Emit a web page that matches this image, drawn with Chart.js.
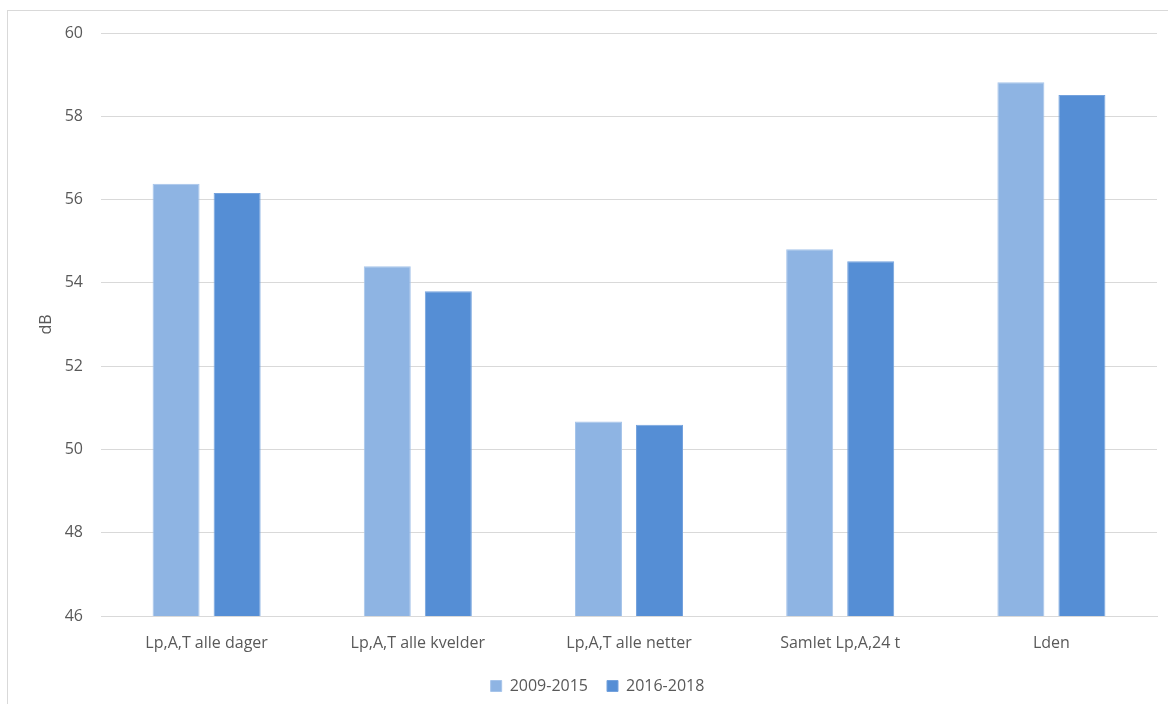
<!DOCTYPE html>
<html>
<head>
<meta charset="utf-8">
<script src="https://cdn.jsdelivr.net/npm/chart.js@4"></script>
<style>
  html, body { margin: 0; padding: 0; background: #fff; overflow: hidden; }
  #wrap { position: relative; width: 1168px; height: 704px; }
  #frame { position: absolute; left: 7px; top: 10px; width: 1170px; height: 710px; border: 1px solid #d9d9d9; box-sizing: border-box; }
  canvas { position: absolute; left: 0; top: 0; }
</style>
</head>
<body>
<div id="wrap">
  <div id="frame"></div>
  <canvas id="noiseChart" width="1168" height="704"></canvas>
</div>
<script>
// Data
const categories = ['Lp,A,T alle dager', 'Lp,A,T alle kvelder', 'Lp,A,T alle netter', 'Samlet Lp,A,24 t', 'Lden'];
const series2009 = [56.38, 54.40, 50.67, 54.81, 58.82];
const series2016 = [56.16, 53.80, 50.59, 54.52, 58.51];
const seriesNames = ['2009-2015', '2016-2018'];

const textColor = '#595959';
const gridColor = '#d9d9d9';
const font = { family: "'Open Sans', sans-serif", size: 16 };

// nudge the legend a bit to the right, like the original
const legendShift = {
    id: 'legendShift',
    afterLayout: (chart) => {
        chart.legend.left += 19;
        chart.legend.right += 19;
    }
};

let ctx = document.getElementById('noiseChart').getContext('2d');
let noiseChart = new Chart(ctx, {
    type: 'bar',
    data: {
        labels: categories,
        datasets: [{
            label: seriesNames[0],
            data: series2009,
            backgroundColor: '#8EB4E3',
            borderColor: '#A6C4EA',
            borderWidth: 1,
            categoryPercentage: 0.578,
            barPercentage: 0.77
        }, {
            label: seriesNames[1],
            data: series2016,
            backgroundColor: '#558ED5',
            borderColor: '#74A2DD',
            borderWidth: 1,
            categoryPercentage: 0.578,
            barPercentage: 0.77
        }]
    },
    options: {
        responsive: false,
        animation: false,
        layout: { padding: { left: 0, right: 11, top: 33, bottom: 0 } },
        plugins: {
            tooltip: { enabled: false },
            legend: {
                position: 'bottom',
                labels: {
                    color: textColor,
                    font: font,
                    boxWidth: 11,
                    boxHeight: 11,
                    padding: 19
                }
            }
        },
        scales: {
            x: {
                grid: { display: false, drawTicks: false },
                border: { display: true, color: gridColor, width: 1 },
                ticks: { color: textColor, font: font, padding: 18, maxRotation: 0 },
                afterFit: (scale) => { scale.height = 43; }
            },
            y: {
                min: 46,
                max: 60,
                ticks: { stepSize: 2, color: textColor, font: font, padding: 18 },
                grid: { color: gridColor, lineWidth: 1, drawTicks: false },
                border: { display: false },
                title: { display: true, text: 'dB', color: textColor, font: font, padding: { top: 37, bottom: 0 } },
                afterFit: (scale) => { scale.width = 101; }
            }
        }
    },
    plugins: [legendShift]
});
</script>
</body>
</html>
